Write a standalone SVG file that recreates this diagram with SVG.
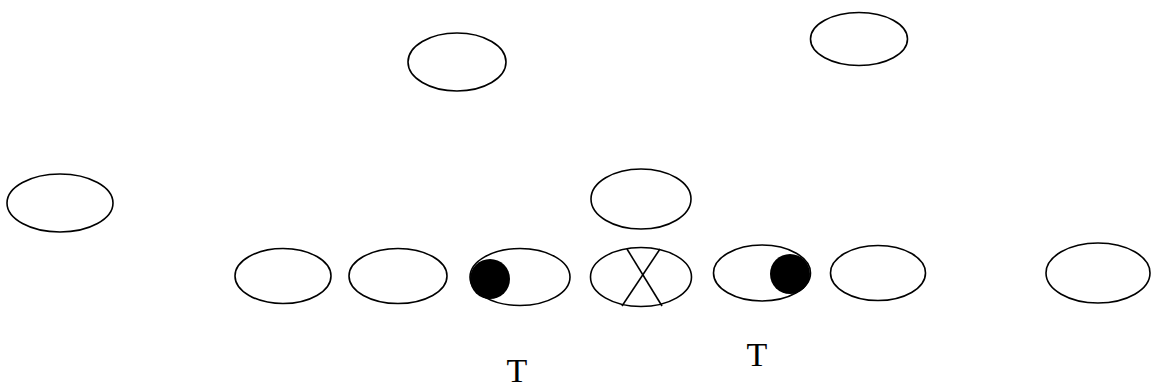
<svg xmlns="http://www.w3.org/2000/svg" width="1156" height="390" viewBox="0 0 1156 390">
<style>
.o{fill:none;stroke:#000;stroke-width:1.6}
.d{fill:#000}
.t{font-family:"Liberation Serif",serif;font-size:34px;fill:#000;text-anchor:middle}
</style>
<rect width="1156" height="390" fill="#fff"/>
<g id="n1"><ellipse class="o" cx="457" cy="62" rx="49" ry="29"/></g>
<g id="n2"><ellipse class="o" cx="859" cy="39" rx="48.5" ry="26.5"/></g>
<g id="n3"><ellipse class="o" cx="60" cy="203" rx="53" ry="29"/></g>
<g id="n4"><ellipse class="o" cx="641" cy="199" rx="50" ry="30"/></g>
<g id="n5"><ellipse class="o" cx="283" cy="276" rx="48" ry="27.5"/></g>
<g id="n6"><ellipse class="o" cx="398" cy="276" rx="49" ry="27.5"/></g>
<g id="n7"><ellipse class="o" cx="520" cy="277" rx="50" ry="28.5"/><circle class="d" cx="490" cy="279" r="20"/></g>
<g id="n8"><ellipse class="o" cx="641" cy="277" rx="50.5" ry="29.5"/>
<line class="o" x1="627" y1="249" x2="662" y2="306"/><line class="o" x1="660" y1="249" x2="622" y2="306"/></g>
<g id="n9"><ellipse class="o" cx="762" cy="273" rx="48.5" ry="28"/><circle class="d" cx="790" cy="274" r="20"/></g>
<g id="n10"><ellipse class="o" cx="878" cy="273" rx="47.5" ry="27.5"/></g>
<g id="n11"><ellipse class="o" cx="1098" cy="273" rx="52" ry="30"/></g>
<g id="labels">
<text class="t" x="517" y="382">T</text>
<text class="t" x="757" y="366">T</text>
</g>
<g id="connectors"/>
</svg>
